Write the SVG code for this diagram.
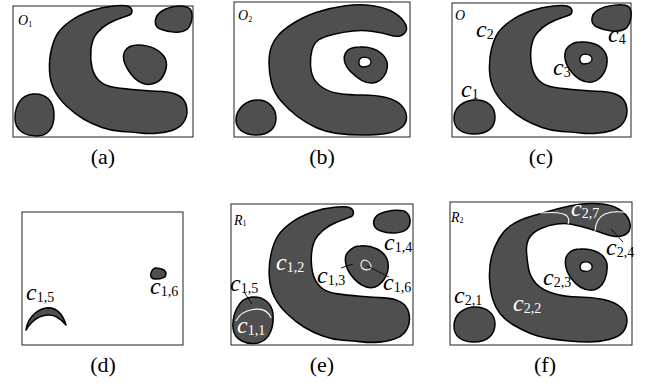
<svg xmlns="http://www.w3.org/2000/svg" xmlns:xlink="http://www.w3.org/1999/xlink" width="648" height="389" viewBox="0 0 648 389">
<style>
.frame{fill:#fff;stroke:#222;stroke-width:1}
.blob{fill:#4f4f4f;stroke:#000;stroke-width:1.5;stroke-linejoin:round}
.hole{fill:#fff;stroke:#000;stroke-width:1.3}
.wl{fill:none;stroke:#fff;stroke-width:1.1}
.lead{fill:none;stroke:#000;stroke-width:0.9}
text{font-family:'Liberation Serif','Times New Roman','Noto Serif','DejaVu Serif',serif}
.cap{font-size:22px;fill:#000;text-anchor:middle}
.c{font-style:italic;font-size:24px;fill:#000}
.w{fill:#fff}
.sub{font-style:normal;font-size:14px}
.nm{font-style:italic;font-size:14px;fill:#000}
.ns{font-style:normal;font-size:8px}
</style>
<defs>
<path id="C1" d="M117.5,13 Q120,12 120,9 Q120,6 116.5,4.5 Q113,3 101.5,4 Q90,5 78.5,9 Q67,13 58.5,19 Q50,25 46,31 Q42,37 39.5,47 Q37,57 37.5,68.5 Q38,80 42.5,88.5 Q47,97 55,104.5 Q63,112 71.5,117 Q80,122 90,125.5 Q100,129 110,129.5 Q120,130 128.5,131 Q137,132 147,131 Q157,130 163.5,127 Q170,124 173,118 Q176,112 174.5,104.5 Q173,97 166.5,93.5 Q160,90 150,89.5 Q140,89 126.5,88 Q113,87 103,85.5 Q93,84 87.5,79 Q82,74 80,65.5 Q78,57 79,47 Q80,37 85,31 Q90,25 96.5,21.5 Q103,18 109,16 Q115,14 117.5,13 Z"/>
</defs>

<g id="panel-a">
<rect class="frame" x="13" y="6" width="180" height="131"/>
<use xlink:href="#C1" class="blob" transform="translate(12,2)"/>
<path class="blob" d="M33,94 C45,93 54,100 54,115 C54,128 48,136 37,136 C24,136 15,130 15,118 C15,104 22,95 33,94 Z"/>
<path class="blob" d="M138,45 C150,45 160,50 165,58 C169,66 164,80 155,83 C146,87 137,82 131,74 C125,66 121,58 125,51 C128,46 133,45 138,45 Z"/>
<path class="blob" d="M162,11 C170,6 184,4 190,9 C194,14 192,26 186,30 C180,34 168,32 160,29 C153,26 154,16 162,11 Z"/>
<text class="nm" x="18" y="25">O<tspan class="ns" dy="2">1</tspan></text>
<text class="cap" x="103" y="164">(a)</text>
</g>

<g id="panel-b">
<rect class="frame" x="234" y="2" width="176" height="135"/>
<path class="blob" d="M278.5,35 Q283,30 293,23.5 Q303,17 316,12.5 Q329,8 344,6 Q359,4 371,5.5 Q383,7 391,11 Q399,15 403.5,21 Q408,27 406,31 Q404,35 400,36 Q396,37 389.5,35 Q383,33 373,31.5 Q363,30 353,31 Q343,32 333,34.5 Q323,37 318.5,40 Q314,43 312,50 Q310,57 310.5,65 Q311,73 313.5,78 Q316,83 322.5,87.5 Q329,92 339,93.5 Q349,95 362.5,95 Q376,95 386,97.5 Q396,100 401,105 Q406,110 406.5,116.5 Q407,123 401.5,127.5 Q396,132 386,133.5 Q376,135 362.5,135 Q349,135 337.5,133.5 Q326,132 316,127.5 Q306,123 297.5,116.5 Q289,110 281.5,101.5 Q274,93 271.5,83 Q269,73 269,63 Q269,53 271.5,46.5 Q274,40 278.5,35 Z"/>
<path class="blob" d="M258,100 C268,100 276,108 276,118 C276,129 268,135 256,135 C244,135 236,129 236,120 C236,109 246,100 258,100 Z"/>
<path class="blob" d="M360,47 C372,46 384,52 387,62 C389,72 382,82 373,83 C365,84 357,78 351,72 C344,65 342,57 347,51 C350,48 355,47 360,47 Z"/>
<path class="hole" d="M361,58 C365,56 371,58 371,62 C371,66 366,67 362,67 C358,66 358,60 361,58 Z"/>
<text class="nm" x="238" y="20">O<tspan class="ns" dy="2">2</tspan></text>
<text class="cap" x="322" y="164">(b)</text>
</g>

<g id="panel-c">
<rect class="frame" x="452" y="3" width="179" height="134"/>
<use xlink:href="#C1" class="blob" transform="translate(452,2)"/>
<path class="blob" d="M598,10 C606,5 624,3 629,7 C633,12 631,25 625,29 C618,33 605,31 597,27 C590,24 590,15 598,10 Z"/>
<path class="blob" d="M580,42 C594,41 605,47 607,58 C608,69 602,80 592,82 C583,83 575,77 570,70 C564,62 563,52 568,47 C571,44 575,42 580,42 Z"/>
<path class="hole" d="M582,55 C586,53 592,55 592,59 C592,63 588,64 583,64 C579,63 579,57 582,55 Z"/>
<path class="blob" d="M476,100 C488,100 495,107 495,117 C495,128 487,134 474,134 C461,134 454,128 454,118 C454,107 464,100 476,100 Z"/>
<text class="nm" x="455" y="20">O</text>
<text class="c" x="476" y="37">c<tspan class="sub" dy="2">2</tspan></text>
<text class="c" x="461" y="97">c<tspan class="sub" dy="2">1</tspan></text>
<text class="c" x="553" y="75">c<tspan class="sub" dy="2">3</tspan></text>
<text class="c" x="608" y="42">c<tspan class="sub" dy="2">4</tspan></text>
<text class="cap" x="541" y="164">(c)</text>
</g>

<g id="panel-d">
<rect class="frame" x="22" y="212" width="161" height="133"/>
<path class="blob" stroke-width="1" d="M26,330 C27,320 35,310 46,308 C55,307 62,312 66,325 C61,319 56,315 49,315 C40,315 32,320 26,330 Z"/>
<path class="blob" stroke-width="1" d="M156,268 C161,268 166,270 166,274 C166,278 160,279 155,279 C151,279 150,276 151,273 C152,270 153,268 156,268 Z"/>
<text class="c" x="26" y="300">c<tspan class="sub" dy="2">1,5</tspan></text>
<text class="c" x="150" y="294">c<tspan class="sub" dy="2">1,6</tspan></text>
<text class="cap" x="103" y="372">(d)</text>
</g>

<g id="panel-e">
<rect class="frame" x="231" y="204" width="182" height="141"/>
<use xlink:href="#C1" class="blob" vector-effect="non-scaling-stroke" transform="translate(231,203) scale(1.02,1.06)"/>
<path class="blob" d="M375,218 C378,212 394,209 404,211 C411,214 412,224 407,229 C401,234 388,234 381,231 C374,229 372,223 375,218 Z"/>
<path class="blob" d="M360,246 C372,245 383,250 387,259 C391,269 385,283 375,287 C366,290 357,283 351,275 C345,267 343,256 349,251 C352,248 356,246 360,246 Z"/>
<path class="wl" d="M364,260 C368,260 372,264 371,268 C369,271 364,270 362,268 C360,265 361,261 364,260 Z"/>
<path class="blob" d="M252,297 C263,296 272,303 273,314 C274,327 270,340 258,343 C246,345 234,340 233,328 C232,316 238,298 252,297 Z"/>
<path class="wl" d="M236,321 C239,314 244,311 253,309.5 C262,308 268,310 271,318"/>
<text class="nm" x="234" y="225">R<tspan class="ns" dy="1">1</tspan></text>
<text class="c w" x="276" y="270">c<tspan class="sub" dy="2">1,2</tspan></text>
<text class="c" x="317" y="283">c<tspan class="sub" dy="2">1,3</tspan></text>
<text class="c" x="384" y="250">c<tspan class="sub" dy="2">1,4</tspan></text>
<text class="c" x="383" y="290">c<tspan class="sub" dy="2">1,6</tspan></text>
<text class="c" x="230" y="291">c<tspan class="sub" dy="2">1,5</tspan></text>
<text class="c w" x="237" y="333">c<tspan class="sub" dy="2">1,1</tspan></text>
<text class="cap" x="322" y="372">(e)</text>
</g>

<g id="panel-f">
<rect class="frame" x="450" y="202" width="182" height="143"/>
<path class="blob" d="M511.5,225 Q519,220 530.5,216.5 Q542,213 557,209 Q572,205 582,204 Q592,203 602,204 Q612,205 618.5,209 Q625,213 628,218 Q631,223 630,228 Q629,233 624.5,235 Q620,237 615,236.5 Q610,236 603.5,233.5 Q597,231 588.5,228.5 Q580,226 572.5,224.5 Q565,223 557,224 Q549,225 541,228.5 Q533,232 529.5,237.5 Q526,243 526.5,251.5 Q527,260 528.5,268.5 Q530,277 536,283.5 Q542,290 553.5,293.5 Q565,297 578.5,297 Q592,297 603.5,299.5 Q615,302 621,307.5 Q627,313 627,320 Q627,327 623,332 Q619,337 609,339.5 Q599,342 589,342 Q579,342 569,341 Q559,340 549,338.5 Q539,337 530.5,333.5 Q522,330 513.5,325 Q505,320 500,313.5 Q495,307 492.5,298.5 Q490,290 489.5,278.5 Q489,267 491.5,257 Q494,247 499,238.5 Q504,230 511.5,225 Z"/>
<path class="wl" d="M540,213 Q562,211 567,216 Q570,220 568,224"/>
<path class="wl" d="M595,231 Q596,218 605,214 Q615,210 628,213"/>
<path class="blob" d="M580,249 C594,248 605,254 607,264 C608,275 604,288 593,290 C584,291 576,285 571,278 C565,270 563,258 569,253 C572,250 576,249 580,249 Z"/>
<path class="hole" d="M584,262 C589,261 593,264 592,268 C591,271 587,272 583,271 C579,270 579,263 584,262 Z"/>
<path class="blob" d="M475,307 C487,307 495,314 495,324 C495,335 487,342 474,342 C461,342 454,336 454,326 C454,315 463,307 475,307 Z"/>
<text class="nm" x="451" y="222">R<tspan class="ns" dy="1">2</tspan></text>
<text class="c w" x="571" y="216">c<tspan class="sub" dy="2">2,7</tspan></text>
<text class="c" x="606" y="255">c<tspan class="sub" dy="2">2,4</tspan></text>
<text class="c" x="543" y="285">c<tspan class="sub" dy="2">2,3</tspan></text>
<text class="c w" x="513" y="311">c<tspan class="sub" dy="2">2,2</tspan></text>
<text class="c" x="454" y="303">c<tspan class="sub" dy="2">2,1</tspan></text>
<text class="cap" x="545" y="372">(f)</text>
</g>

<g id="leaders">
<line class="lead" x1="341" y1="268" x2="353" y2="264"/>
<line class="lead" x1="367" y1="266" x2="389" y2="277"/>
<line class="lead" x1="244" y1="292" x2="252" y2="304"/>
<line class="lead" x1="611" y1="229" x2="623" y2="242"/>
</g>
</svg>
